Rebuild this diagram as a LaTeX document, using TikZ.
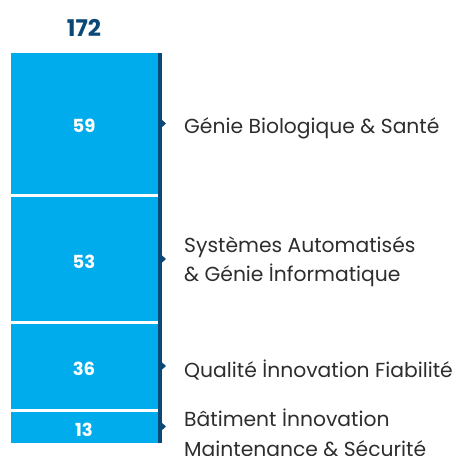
\documentclass[tikz,border=0pt]{standalone}
\usepackage{fontspec}
\setmainfont{Poppins}
\definecolor{barblue}{RGB}{0,172,236}
\definecolor{navy}{RGB}{12,72,118}
\definecolor{labgray}{RGB}{45,45,45}
\begin{document}
\begin{tikzpicture}[x=1pt,y=-1pt]
\tikzset{seg/.style={fill=barblue},
  num/.style={text=white, font=\fontsize{18}{20}\selectfont\bfseries},
  lab/.style={anchor=west, text=labgray, align=left, inner sep=0pt, font=\fontsize{20.3}{29.5}\selectfont},
  tip/.style={fill=navy}}
\useasboundingbox (0,0) rectangle (456,456);
\node[text=navy, font=\fontsize{23}{26}\selectfont\bfseries] (total) at (84,28){172};
% stacked segments
\fill[seg] (11,53) rectangle (157.5,194);
\fill[seg] (11,197) rectangle (157.5,321);
\fill[seg] (11,323.5) rectangle (157.5,409);
\fill[seg] (11,411.5) rectangle (157.5,442.5);
\fill[navy] (157.5,53) rectangle (161.5,443);
\node[num] (n59) at (84,126){59};
\node[num] (n53) at (84,262){53};
\node[num] (n36) at (84,369){36};
\node[num] (n13) at (84,429.5){13};
% markers
\fill[tip] (161,119) -- (166,123.5) -- (161,128) -- cycle;
\fill[tip] (161,254.5) -- (166,259) -- (161,263.5) -- cycle;
\fill[tip] (161,361.5) -- (166,366) -- (161,370.5) -- cycle;
\fill[tip] (161,422) -- (166,426.5) -- (161,431) -- cycle;
\node[lab] (l1) at (184,128){Génie Biologique \& Santé};
\node[lab] (l2) at (184,261.5){Systèmes Automatisés\\\& Génie İnformatique};
\node[lab] (l3) at (184,370){Qualité İnnovation Fiabilité};
\node[lab] (l4) at (184,433){Bâtiment İnnovation\\Maintenance \& Sécurité};
\end{tikzpicture}
\end{document}
